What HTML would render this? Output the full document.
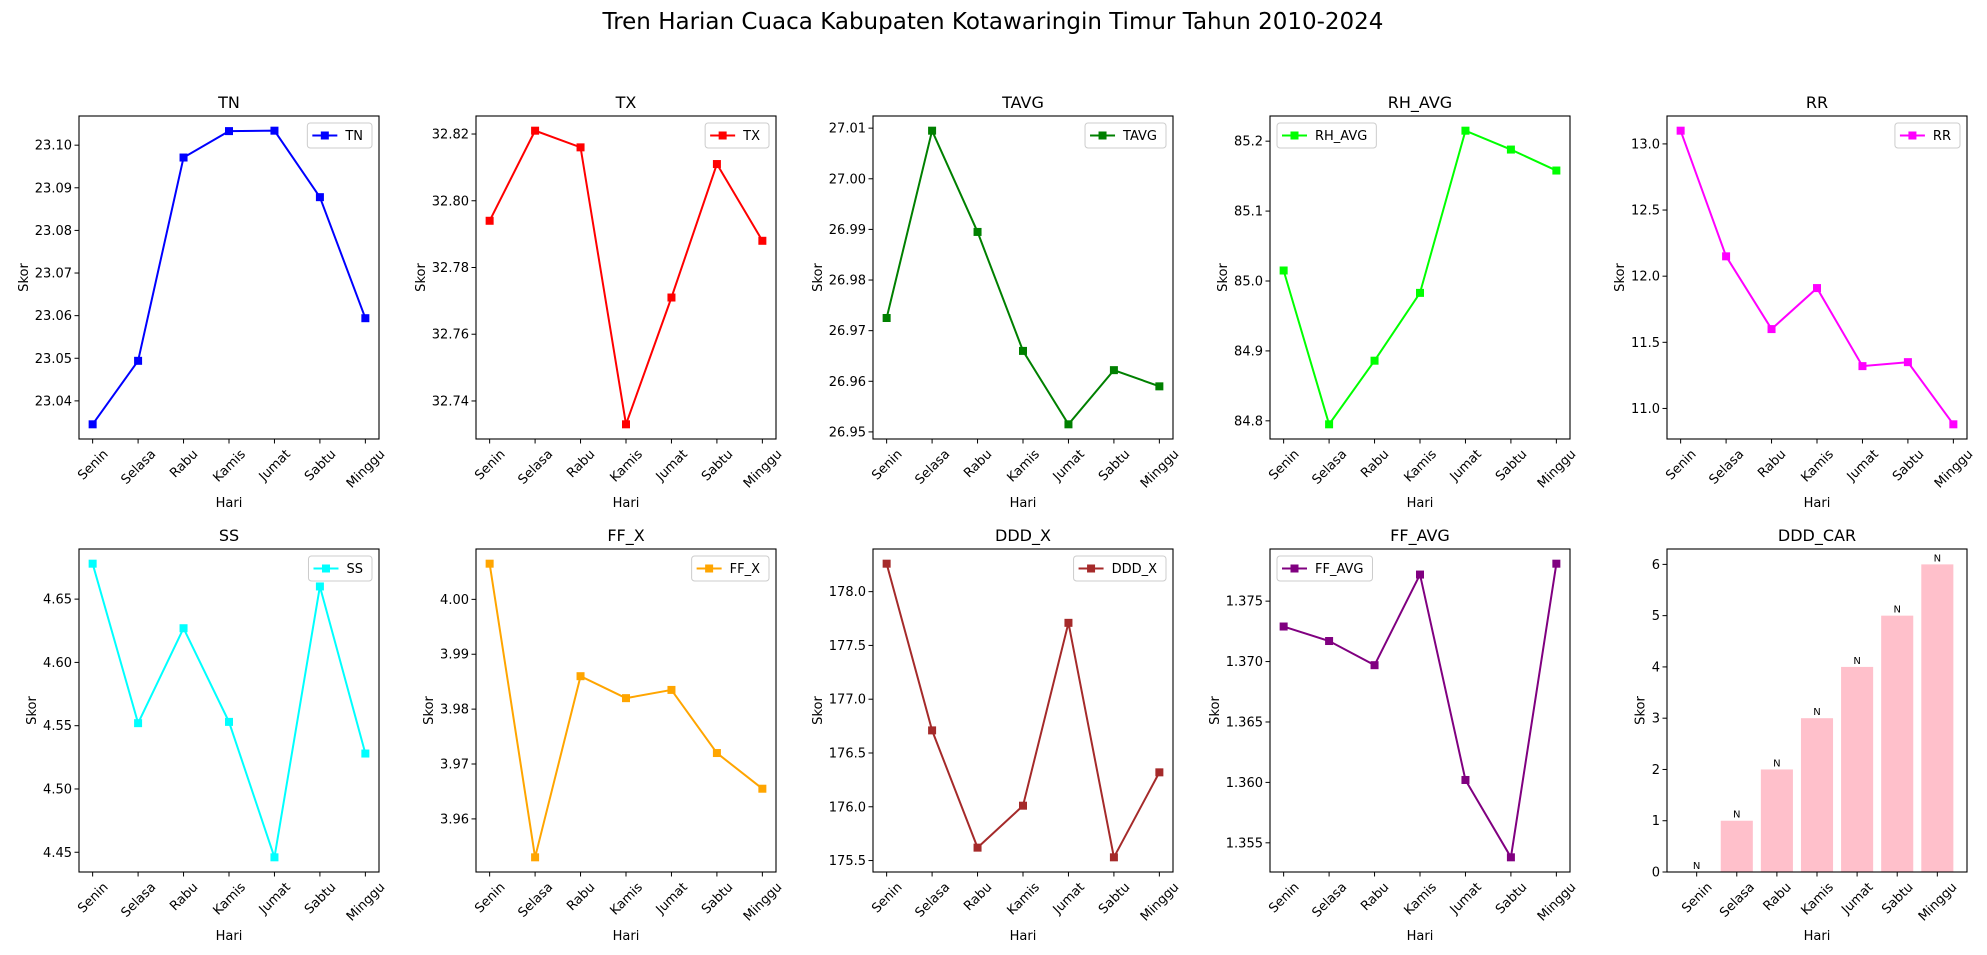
<!DOCTYPE html>
<html><head><meta charset="utf-8"><style>
body{margin:0;background:#fff;}
svg{display:block;font-family:"DejaVu Sans","Liberation Sans",sans-serif;}
</style></head><body>
<svg id="fig" width="1987" height="955" viewBox="0 0 1987 955" xmlns="http://www.w3.org/2000/svg">
<rect width="1987" height="955" fill="#fff"/>
<text x="993" y="29" text-anchor="middle" font-size="23" fill="#000">Tren Harian Cuaca Kabupaten Kotawaringin Timur Tahun 2010-2024</text>
</svg>
<script>
const days = ["Senin","Selasa","Rabu","Kamis","Jumat","Sabtu","Minggu"];
const tnValues = [23.0345,23.0494,23.0971,23.1033,23.1034,23.0878,23.0594];
const txValues = [32.794,32.821,32.816,32.733,32.771,32.811,32.788];
const tavgValues = [26.9725,27.0095,26.9895,26.966,26.9515,26.9622,26.959];
const rhValues = [85.015,84.795,84.886,84.983,85.215,85.188,85.158];
const rrValues = [13.1,12.15,11.6,11.91,11.32,11.35,10.88];
const ssValues = [4.678,4.552,4.627,4.553,4.446,4.660,4.528];
const ffxValues = [4.0065,3.953,3.986,3.982,3.9835,3.972,3.9655];
const dddxValues = [178.26,176.71,175.62,176.01,177.71,175.53,176.32];
const ffavgValues = [1.3729,1.3717,1.3697,1.3772,1.3602,1.3538,1.3781];
const dddcarValues = [0,1,2,3,4,5,6];
const dddcarLabels = ["N","N","N","N","N","N","N"];
const tnTicks = ["23.04","23.05","23.06","23.07","23.08","23.09","23.10"];
const txTicks = ["32.74","32.76","32.78","32.80","32.82"];
const tavgTicks = ["26.95","26.96","26.97","26.98","26.99","27.00","27.01"];
const rhTicks = ["84.8","84.9","85.0","85.1","85.2"];
const rrTicks = ["11.0","11.5","12.0","12.5","13.0"];
const ssTicks = ["4.45","4.50","4.55","4.60","4.65"];
const ffxTicks = ["3.96","3.97","3.98","3.99","4.00"];
const dddxTicks = ["175.5","176.0","176.5","177.0","177.5","178.0"];
const ffavgTicks = ["1.355","1.360","1.365","1.370","1.375"];
const dddcarTicks = ["0","1","2","3","4","5","6"];

const NS="http://www.w3.org/2000/svg";
const fig=document.getElementById('fig');
function mk(tag,attrs,parent){const e=document.createElementNS(NS,tag);for(const k in attrs)e.setAttribute(k,attrs[k]);(parent||fig).appendChild(e);return e;}

const AW=300, AH=323;
const lefts=[79,476,873,1270,1667], tops=[116,549];

const panels=[
 {name:"TN",vals:tnValues,ticks:tnTicks,color:"#0000ff",leg:"right"},
 {name:"TX",vals:txValues,ticks:txTicks,color:"#ff0000",leg:"right"},
 {name:"TAVG",vals:tavgValues,ticks:tavgTicks,color:"#008000",leg:"right"},
 {name:"RH_AVG",vals:rhValues,ticks:rhTicks,color:"#00ff00",leg:"left"},
 {name:"RR",vals:rrValues,ticks:rrTicks,color:"#ff00ff",leg:"right"},
 {name:"SS",vals:ssValues,ticks:ssTicks,color:"#00ffff",leg:"right"},
 {name:"FF_X",vals:ffxValues,ticks:ffxTicks,color:"#ffa500",leg:"right"},
 {name:"DDD_X",vals:dddxValues,ticks:dddxTicks,color:"#a52a2a",leg:"right"},
 {name:"FF_AVG",vals:ffavgValues,ticks:ffavgTicks,color:"#800080",leg:"left"},
 {name:"DDD_CAR",vals:dddcarValues,ticks:dddcarTicks,color:"#ffc0cb",bar:true}
];

panels.forEach((p,i)=>{
  const L=lefts[i%5], T=tops[Math.floor(i/5)], B=T+AH, R=L+AW;
  const slug=p.name.toLowerCase().replace('_','-');
  const g=mk('g',{});
  
  
  let ymin,ymax,xmin,xmax;
  if(p.bar){
    ymin=0; ymax=Math.max(...p.vals)*1.05; xmin=-0.74; xmax=days.length-1+0.74;
  } else {
    const mn=Math.min(...p.vals), mx=Math.max(...p.vals), r=mx-mn;
    ymin=mn-0.05*r; ymax=mx+0.05*r; xmin=-0.3; xmax=days.length-1+0.3;
  }
  const sx=v=>L+(v-xmin)/(xmax-xmin)*AW;
  const sy=v=>B-(v-ymin)/(ymax-ymin)*AH;
  // title
  const t=mk('text',{x:L+AW/2,y:T-8,'text-anchor':'middle','font-size':16},g);
  t.textContent=p.name;
  
  
  // y ticks
  let maxW=0;
  p.ticks.forEach(tk=>{
    const y=sy(parseFloat(tk));
    mk('line',{x1:L-4.5,x2:L,y1:y,y2:y,stroke:'#000','stroke-width':1},g);
    const tt=mk('text',{x:L-7,y:y+4.5,'text-anchor':'end','font-size':13},g);
    tt.textContent=tk;
    
    
    maxW=Math.max(maxW,tt.getComputedTextLength());
  });
  const yl=mk('text',{x:0,y:0,'text-anchor':'middle','font-size':13,transform:`translate(${L-maxW-14},${T+AH/2}) rotate(-90)`},g);
  yl.textContent="Skor";
  
  
  // x ticks
  days.forEach((d,k)=>{
    const x=sx(k);
    mk('line',{x1:x,x2:x,y1:B,y2:B+4.5,stroke:'#000','stroke-width':1},g);
    const tt=mk('text',{x:0,y:0,'text-anchor':'middle','font-size':13},g);
    tt.textContent=d;
    const w=tt.getComputedTextLength();
    const half=(w*0.707+13*0.707)/2;
    tt.setAttribute('transform',`translate(${x},${B+8+half}) rotate(-45)`);
    tt.setAttribute('dy','4.5');
    
    
  });
  const xl=mk('text',{x:L+AW/2,y:B+68,'text-anchor':'middle','font-size':13},g);
  xl.textContent="Hari";
  
  
  if(p.bar){
    p.vals.forEach((v,k)=>{
      const x0=sx(k-0.4), x1=sx(k+0.4);
      const r=mk('rect',{x:x0,y:sy(v),width:x1-x0,height:sy(0)-sy(v),fill:p.color},g);
      
      
      const lt=mk('text',{x:sx(k),y:sy(v)-3,'text-anchor':'middle','font-size':10},g);
      lt.textContent=dddcarLabels[k];
      
      
    });
  } else {
    const pts=p.vals.map((v,k)=>sx(k)+','+sy(v)).join(' ');
    const pl=mk('polyline',{points:pts,fill:'none',stroke:p.color,'stroke-width':2},g);
    
    
    p.vals.forEach((v,k)=>{
      const m=mk('rect',{x:sx(k)-4,y:sy(v)-4,width:8,height:8,fill:p.color},g);
      
      
    });
    // legend
    const lg=mk('g',{},g);
    
    
    const lt=mk('text',{x:0,y:0,'font-size':13},lg);
    lt.textContent=p.name;
    const tw=lt.getComputedTextLength();
    const bw=tw+47, bh=25;
    const bx=p.leg==='right'?R-7-bw:L+7, by=T+7;
    const box=mk('rect',{x:bx,y:by,width:bw,height:bh,rx:3,fill:'#fff','fill-opacity':0.8,stroke:'#ccc','stroke-width':1},lg);
    lg.insertBefore(box,lt);
    mk('line',{x1:bx+5,x2:bx+30,y1:by+bh/2,y2:by+bh/2,stroke:p.color,'stroke-width':2},lg);
    mk('rect',{x:bx+17.5-4,y:by+bh/2-4,width:8,height:8,fill:p.color},lg);
    lt.setAttribute('x',bx+38);
    lt.setAttribute('y',by+bh/2+4.5);
  }
  mk('rect',{x:L,y:T,width:AW,height:AH,fill:'none',stroke:'#000','stroke-width':1.1},g);
});
</script>
</body></html>
